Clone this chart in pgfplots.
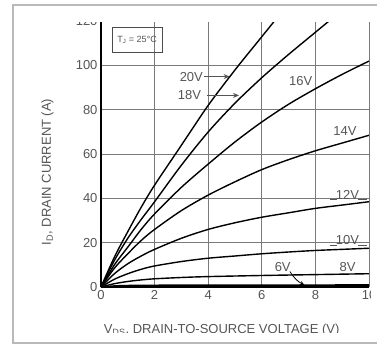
\documentclass[border=0pt]{standalone}
\usepackage{fontspec}
\setmainfont{Liberation Sans}
\usepackage{pgfplots}
\pgfplotsset{compat=1.18}
\usetikzlibrary{arrows.meta}
\definecolor{lbl}{HTML}{555555}
\definecolor{gridc}{HTML}{7A7A7A}
\begin{document}
\begin{tikzpicture}
\begin{scope}
\clip (-86pt,-45.5pt) rectangle (269.5pt,264pt);
\begin{axis}[
  scale only axis, width=268pt, height=265.8pt,
  xmin=0, xmax=10, ymin=0, ymax=120,
  xtick={0,2,...,10}, ytick={0,20,...,120},
  grid=major, major grid style={gridc, line width=0.8pt},
  axis x line*=bottom, axis y line*=left,
  axis line style={black, line width=1.4pt},
  major tick length=0pt,
  /pgf/number format/assume math mode=true,
  tick label style={font=\fontsize{13}{15}\selectfont, text=lbl},
  label style={font=\fontsize{13}{15}\selectfont, text=lbl},
  xlabel={V\textsubscript{DS}, DRAIN-TO-SOURCE VOLTAGE (V)},
  ylabel={I\textsubscript{D}, DRAIN CURRENT (A)},
  xlabel style={at={(axis description cs:0.45,-0.162)}, anchor=center},
  ylabel style={at={(axis description cs:-0.2,0.433)}, anchor=center},
  curve/.style={black, solid, line width=1.4pt, smooth, mark=none},
]
% 20V
\addplot[curve] coordinates {(0,0)(0.5,13.5)(1,25)(1.5,36)(2,46)(3,64)(4,82)(5,98)(6,113)(6.5,120.5)};
% 18V
\addplot[curve] coordinates {(0,0)(0.5,12)(1,22)(1.5,30.5)(2,38.5)(3,55)(4,70)(5,83)(6,94.5)(7,105)(8,115)(8.5,120)};
% 16V
\addplot[curve] coordinates {(0,0)(0.5,10)(1,18)(1.5,26)(2,33)(3,45)(4,55.5)(5,65.5)(6,74.5)(7,82.5)(8,89.5)(9,96)(10,102)};
% 14V
\addplot[curve] coordinates {(0,0)(0.5,8.5)(1,15)(1.5,21)(2,26)(3,34.5)(4,41.5)(5,47.5)(6,53)(7,57.5)(8,61.5)(9,65)(10,68.5)};
% 12V
\addplot[curve] coordinates {(0,0)(0.5,6)(1,10.5)(1.5,14)(2,17)(3,22)(4,26)(5,29)(6,31.5)(7,33.5)(8,35.5)(9,37)(10,38.5)};
% 10V
\addplot[curve] coordinates {(0,0)(0.5,3.5)(1,6)(1.5,8)(2,9.5)(3,11.5)(4,13)(5,14)(6,15)(7,15.8)(8,16.5)(9,17)(10,17.5)};
% 8V
\addplot[curve] coordinates {(0,0)(0.5,1.5)(1,2.5)(1.5,3.2)(2,3.7)(3,4.3)(4,4.7)(6,5.2)(8,5.6)(10,6)};
% 6V
\addplot[curve, line width=1.6pt] coordinates {(0,0)(0.5,0.45)(1,0.65)(2,0.75)(3,0.8)(10,0.9)};

\node[draw=black!70, line width=0.6pt, minimum width=50pt, minimum height=25pt, inner sep=0pt,
      font=\fontsize{9}{10}\selectfont, text=lbl] at (axis cs:1.35,111.5) {T\textsubscript{J} = 25°C};

\begin{scope}[every node/.style={font=\fontsize{13}{15}\selectfont, text=lbl, inner sep=0pt}]
\node at (axis cs:3.37,95) {20V};
\draw[lbl, line width=0.8pt, -{Stealth[length=6pt,width=5pt]}] (axis cs:3.85,95) -- (axis cs:4.8,95);
\node at (axis cs:3.3,86.5) {18V};
\draw[lbl, line width=0.8pt, -{Stealth[length=6pt,width=5pt]}] (axis cs:3.95,86.5) -- (axis cs:5.15,86.5);
\node at (axis cs:7.45,93) {16V};
\node at (axis cs:9.1,70.5) {14V};
\node at (axis cs:9.2,41.5) {12V};
\draw[lbl, line width=0.7pt] (axis cs:8.55,39.6) -- (axis cs:8.8,39.6);
\draw[lbl, line width=0.7pt] (axis cs:9.6,39.6) -- (axis cs:9.93,39.6);
\node at (axis cs:9.2,21) {10V};
\draw[lbl, line width=0.7pt] (axis cs:8.55,19) -- (axis cs:8.8,19);
\draw[lbl, line width=0.7pt] (axis cs:9.6,19) -- (axis cs:9.93,19);
\node at (axis cs:9.2,9) {8V};
\node at (axis cs:6.78,9) {6V};
\draw[black, line width=0.8pt, -{Stealth[length=5pt,width=4pt]}] (axis cs:7.05,7) to[bend right=15] (axis cs:7.6,0.8);
\end{scope}
\end{axis}
\end{scope}
\draw[gray!55, line width=1.5pt] (-88pt,-56pt) rectangle (292pt,282pt);
\pgfresetboundingbox
\path[use as bounding box] (-101pt,-67pt) rectangle (276pt,287pt);
\end{tikzpicture}
\end{document}
